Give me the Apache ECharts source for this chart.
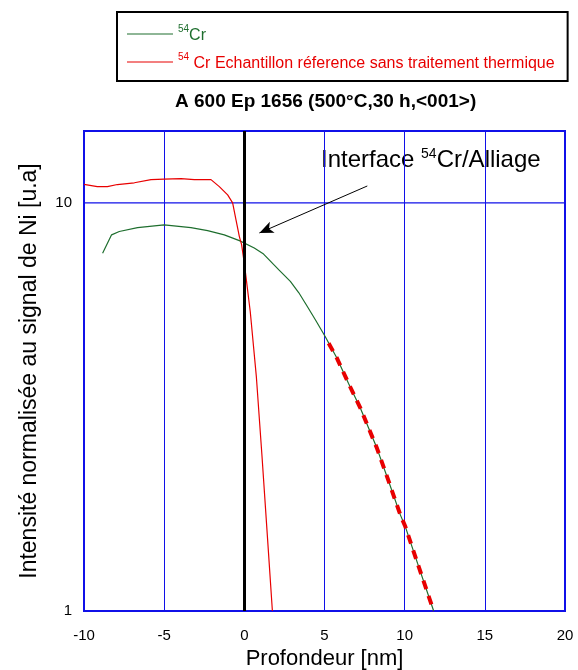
<!DOCTYPE html>
<html>
<head>
<meta charset="utf-8">
<script src="https://cdn.jsdelivr.net/npm/echarts@6/dist/echarts.min.js"></script>
<style>
  html, body { margin: 0; padding: 0; background: #fff; }
  #chart_profil { width: 578px; height: 670px; }
</style>
</head>
<body>
<div id="chart_profil"></div>
<script>
// profondeur (nm) / intensité normalisée
var cr54_x = [-8.84, -8.28, -7.8, -6.66, -5, -3.33, -2.29, -1.25, -0.31, 0.62, 1.2, 2.14, 2.87, 3.39, 3.91, 4.43, 5.05, 5.78, 6.5, 7.24, 8.28, 9.0, 9.73, 10.04, 10.8, 11.81];
var cr54_y = [7.53, 8.35, 8.51, 8.70, 8.83, 8.70, 8.55, 8.35, 8.08, 7.75, 7.49, 6.86, 6.42, 6.03, 5.59, 5.17, 4.70, 4.16, 3.61, 3.14, 2.50, 2.08, 1.72, 1.61, 1.31, 1.0];

var ref_x = [-10, -9.17, -8.54, -7.92, -6.86, -5.82, -5.0, -3.95, -3.12, -2.08, -1.56, -1.04, -0.73, -0.52, -0.31, -0.17, 0.0, 0.37, 0.75, 1.10, 1.45, 1.75];
var ref_y = [11.1, 10.96, 10.96, 11.09, 11.2, 11.4, 11.43, 11.46, 11.4, 11.4, 10.96, 10.46, 10.0, 9.09, 8.27, 7.9, 7.11, 5.41, 3.75, 2.40, 1.50, 1.0];

// ajustement (pointillés rouges)
var fit_x = [5.26, 5.78, 6.5, 7.24, 8.28, 9.0, 9.73, 10.04, 10.8, 11.81];
var fit_y = [4.53, 4.16, 3.61, 3.14, 2.50, 2.08, 1.72, 1.61, 1.31, 1.0];

var x_ticks = [-10, 20, 5];   // min, max, interval
var y_ticks = [1, 15];        // min, max (log)
var y_grid = [10];            // ligne horizontale de la grille

// fleche vers l'interface
var arrow_from = [7.67, 11.0];
var arrow_to = [0.94, 8.44];

var nom_cr = 'Cr';
var nom_ref = 'Cr Echantillon réference sans traitement thermique';

function pairs(xs, ys) {
    return xs.map(function (x, i) { return [x, ys[i]]; });
}

var FONT = 'Liberation Sans, Arial, sans-serif';
var BLUE = '#1010e8';
var GREEN = '#1e6e2e';
var RED = '#e80000';

var chart = echarts.init(document.getElementById('chart_profil'));

let option = {
    animation: false,
    backgroundColor: '#fff',
    textStyle: { fontFamily: FONT },
    title: {
        text: 'A 600 Ep 1656 (500°C,30 h,<001>)',
        left: 175,
        top: 92,
        padding: 0,
        textStyle: { fontFamily: FONT, fontSize: 19, fontWeight: 'bold', color: '#000' }
    },
    legend: {
        orient: 'vertical',
        left: 117,
        top: 12,
        padding: [12, 13, 9, 10],
        itemGap: 8,
        itemWidth: 46,
        itemHeight: 1,
        icon: 'rect',
        borderColor: '#000',
        borderWidth: 2,
        borderRadius: 0,
        data: [
            { name: nom_cr, textStyle: { color: GREEN } },
            { name: nom_ref, textStyle: { color: RED } }
        ],
        formatter: function (name) {
            return '{sup|54}' + (name === nom_cr ? '' : ' ') + '{t|' + name + '}';
        },
        textStyle: {
            fontFamily: FONT,
            fontSize: 16,
            rich: {
                sup: { fontFamily: FONT, fontSize: 10, verticalAlign: 'top', lineHeight: 20 },
                t: { fontFamily: FONT, fontSize: 16, lineHeight: 20, padding: [4, 0, 0, 0] }
            }
        }
    },
    graphic: [
        {
            type: 'text',
            left: 321,
            top: 147,
            style: {
                text: 'Interface {sup|54}Cr/Alliage',
                fill: '#000',
                font: '24px ' + FONT,
                rich: {
                    sup: { fontFamily: FONT, fontSize: 14, verticalAlign: 'top', lineHeight: 27, fill: '#000' }
                }
            }
        }
    ],
    grid: {
        left: 84,
        right: 13,
        top: 131,
        bottom: 59,
        outerBoundsMode: 'none',
        show: true,
        borderColor: BLUE,
        borderWidth: 2
    },
    xAxis: {
        type: 'value',
        min: x_ticks[0],
        max: x_ticks[1],
        interval: x_ticks[2],
        name: 'Profondeur [nm]',
        nameLocation: 'middle',
        nameGap: 36,
        nameTextStyle: { fontFamily: FONT, fontSize: 22, color: '#000' },
        axisLine: { onZero: false, lineStyle: { color: BLUE, width: 2 } },
        axisTick: { show: false },
        axisLabel: { fontFamily: FONT, fontSize: 15, color: '#000', margin: 17 },
        splitLine: { show: true, lineStyle: { color: BLUE, width: 1 } }
    },
    yAxis: {
        type: 'log',
        logBase: 10,
        min: y_ticks[0],
        max: y_ticks[1],
        name: 'Intensité normalisée au signal de Ni [u.a]',
        nameLocation: 'middle',
        nameGap: 43,
        nameTextStyle: { fontFamily: FONT, fontSize: 23, color: '#000' },
        axisLine: { show: true, onZero: false, lineStyle: { color: BLUE, width: 2 } },
        axisTick: { show: false },
        axisLabel: {
            fontFamily: FONT,
            fontSize: 15,
            color: '#000',
            margin: 12,
            formatter: function (v) {
                var r = Math.round(v);
                return (Math.abs(v - r) < 1e-6 && (r === 1 || r === 10)) ? String(r) : '';
            }
        },
        splitLine: { show: false }
    },
    series: [
        {
            name: 'grille',
            type: 'line',
            data: y_grid.map(function (v) { return [x_ticks[0], v]; })
                .concat(y_grid.map(function (v) { return [x_ticks[1], v]; })),
            symbol: 'none',
            silent: true,
            lineStyle: { color: BLUE, width: 1.2 },
            z: 2
        },
        {
            name: nom_cr,
            type: 'line',
            data: pairs(cr54_x, cr54_y),
            symbol: 'none',
            color: GREEN,
            lineStyle: { color: GREEN, width: 1.2 },
            z: 3,
            markLine: {
                silent: true,
                symbol: 'none',
                label: { show: false },
                lineStyle: { color: '#000', width: 3, type: 'solid' },
                data: [{ xAxis: 0 }],
                z: 5
            }
        },
        {
            name: nom_ref,
            type: 'line',
            data: pairs(ref_x, ref_y),
            symbol: 'none',
            color: RED,
            lineStyle: { color: RED, width: 1.2 },
            z: 3,
            markLine: {
                silent: true,
                symbol: ['none', 'arrow'],
                symbolSize: [9, 14],
                label: { show: false },
                lineStyle: { color: '#000', width: 1, type: 'solid' },
                data: [[{ coord: arrow_from }, { coord: arrow_to }]]
            }
        },
        {
            name: 'fit',
            type: 'line',
            data: pairs(fit_x, fit_y),
            symbol: 'none',
            color: RED,
            lineStyle: { color: RED, width: 4, type: [9, 7] },
            z: 4
        }
    ]
};

chart.setOption(option);
</script>
</body>
</html>
